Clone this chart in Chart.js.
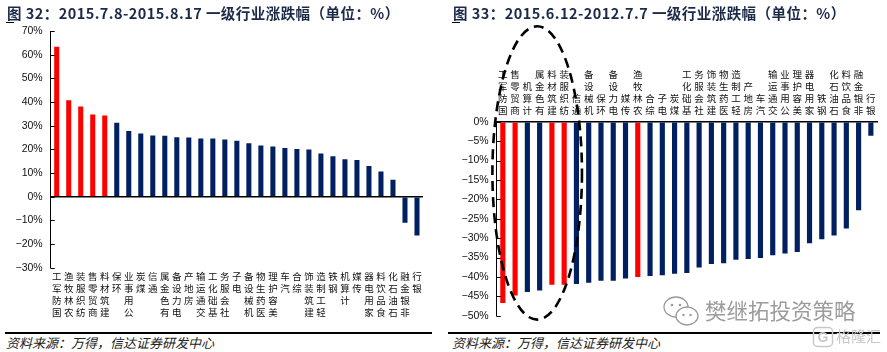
<!DOCTYPE html>
<html><head><meta charset="utf-8">
<script src="https://cdn.jsdelivr.net/npm/chart.js@4/dist/chart.umd.min.js"></script>
<style>
html,body{margin:0;padding:0;background:#fff;width:887px;height:352px;overflow:hidden;position:relative;font-family:"Noto Sans CJK SC",sans-serif;}
.title{position:absolute;top:3.5px;font-weight:bold;font-size:14.5px;letter-spacing:0.45px;color:#1c2a4a;white-space:nowrap;line-height:18px;z-index:2;}
.ul{position:absolute;top:21.5px;height:1.5px;width:8px;background:#000;z-index:2;}
.rule{position:absolute;top:332px;height:1.5px;background:#000;}
.src{position:absolute;top:334.5px;font-size:13px;line-height:16px;font-style:italic;color:#222;white-space:nowrap;}
canvas{position:absolute;top:0;}
.wm{position:absolute;z-index:3;white-space:nowrap;}
</style></head><body>
<div class="title" style="left:7px">图 32：2015.7.8-2015.8.17 一级行业涨跌幅（单位：%）</div>
<div class="ul" style="left:6px"></div>
<div class="title" style="left:453px">图 33：2015.6.12-2012.7.7 一级行业涨跌幅（单位：%）</div>
<div class="ul" style="left:452px"></div>
<canvas id="c1" width="440" height="330" style="left:0;width:440px;height:330px"></canvas>
<canvas id="c2" width="447" height="330" style="left:440px;width:447px;height:330px"></canvas>
<div class="rule" style="left:5px;width:427px"></div>
<div class="rule" style="left:448px;width:432px"></div>
<div class="src" style="left:6px">资料来源：万得，信达证券研发中心</div>
<div class="src" style="left:452px">资料来源：万得，信达证券研发中心</div>
<svg class="wm" style="left:662px;top:295px" width="38" height="34" viewBox="0 0 38 34">
  <ellipse cx="14" cy="12" rx="12" ry="10" fill="#fff" stroke="#9a9a9a" stroke-width="1.3"/>
  <circle cx="10" cy="10" r="1.3" fill="#9a9a9a"/><circle cx="18" cy="10" r="1.3" fill="#9a9a9a"/>
  <ellipse cx="25" cy="21" rx="11" ry="9" fill="#fff" stroke="#9a9a9a" stroke-width="1.3"/>
  <circle cx="21.5" cy="20" r="1.2" fill="#9a9a9a"/><circle cx="28.5" cy="20" r="1.2" fill="#9a9a9a"/>
</svg>
<div class="wm" style="left:705px;top:297px;font-size:21.5px;line-height:26px;color:#9c9c9c;">樊继拓投资策略</div>
<svg class="wm" style="left:812px;top:326px" width="22" height="22" viewBox="0 0 22 22">
  <rect x="1.5" y="1.5" width="19" height="19" rx="4" fill="none" stroke="#c8c8c8" stroke-width="1.5"/>
  <text x="11" y="16" text-anchor="middle" font-size="14" font-family="Liberation Sans" font-weight="bold" fill="#c8c8c8">G</text>
</svg>
<div class="wm" style="left:836px;top:325px;font-size:15px;line-height:22px;color:#c8c8c8;">格隆汇</div>
<script>
// ---- Data ----
const catsL = ['国防军工','农林牧渔','纺织服装','商贸零售','建筑材料','环保','公用事业','煤炭','通信','有色金属','电力设备','房地产','交通运输','基础化工','社会服务','电子','机械设备','医药生物','美容护理','汽车','综合','建筑装饰','轻工制造','钢铁','计算机','传媒','家用电器','食品饮料','石油石化','非银金融','银行'];
const valsL = [63.3,40.7,38.1,34.7,34.3,31.2,27.7,26.7,25.8,25.7,25.1,25.0,24.6,24.6,24.2,23.6,22.6,21.6,21.2,20.6,20.2,19.9,18.2,17.1,15.8,15.5,13.0,10.6,7.2,-11.0,-16.4];
const catsR = ['国防军工','商贸零售','计算机','有色金属','建筑材料','纺织服装','通信','机械设备','环保','电力设备','传媒','农林牧渔','综合','电子','煤炭','基础化工','社会服务','建筑装饰','医药生物','轻工制造','房地产','汽车','交通运输','公用事业','美容护理','家用电器','钢铁','石油石化','食品饮料','非银金融','银行'];
const valsR = [-46.7,-44.8,-43.9,-43.5,-42.0,-42.0,-41.8,-41.5,-41.0,-41.0,-40.4,-40.0,-39.8,-39.6,-39.2,-39.0,-37.6,-36.7,-36.5,-35.6,-35.4,-35.1,-34.4,-34.0,-33.6,-31.3,-30.3,-29.3,-27.5,-22.8,-3.6];
const highlighted = ['国防军工','农林牧渔','纺织服装','商贸零售','建筑材料'];
const ticksL = {min:-30, max:70, step:10};
const ticksR = {min:-50, max:0, step:5};

const RED = '#FF0000', NAVY = '#002060';
const vert = s => Array.from(s).reverse();
const pct = v => (v < 0 ? '\u2212' + Math.abs(v) : v) + '%';

const innerTicks = {
  id:'innerTicks',
  afterDraw(chart){
    const y = chart.scales.y, ctx = chart.ctx;
    ctx.save(); ctx.strokeStyle='#000'; ctx.lineWidth=1;
    y.ticks.forEach(t=>{
      const py = Math.round(y.getPixelForValue(t.value))+0.5;
      ctx.beginPath(); ctx.moveTo(y.right, py); ctx.lineTo(y.right+4, py); ctx.stroke();
    });
    ctx.restore();
  }
};
const ellipse = {
  id:'ellipse',
  afterDraw(chart){
    const x = chart.scales.x, y = chart.scales.y, ctx = chart.ctx;
    const x0 = x.getPixelForValue(0), x5 = x.getPixelForValue(5);
    const cx = x.getPixelForValue(2.8);
    const rx = (x5 - x0) * 0.73;
    const top = y.getPixelForValue(24.6), bot = y.getPixelForValue(-51);
    ctx.save();
    ctx.strokeStyle='#000'; ctx.lineWidth=2.6; ctx.setLineDash([10,6]);
    ctx.beginPath(); ctx.ellipse(cx,(top+bot)/2,rx,(bot-top)/2,0,0,Math.PI*2); ctx.stroke();
    ctx.restore();
  }
};

const catFont = {family:'"Noto Sans CJK SC"', size:9.5, lineHeight:'12px'};
const numFont = {family:'"Liberation Sans", Arial', size:10.5};

function build(id, cats, vals, tk, opt){
  return new Chart(document.getElementById(id), {
    type:'bar',
    data:{labels: cats.map(vert), datasets:[{data: vals,
      backgroundColor: cats.map(c => highlighted.includes(c) ? RED : NAVY),
      barPercentage:1, categoryPercentage:0.42}]},
    options:{responsive:false, animation:false, devicePixelRatio:1,
      layout:{padding:opt.padding},
      plugins:{legend:{display:false}, tooltip:{enabled:false}},
      scales:{
        x:{position:opt.xpos, grid:{display:false, drawTicks:false},
           border:opt.xborder,
           ticks:{autoSkip:false, maxRotation:0, minRotation:0, padding:opt.xpad, color:'#111', font:catFont},
           afterFit(s){ s.height = opt.xh; }},
        y:{min:tk.min, max:tk.max,
           ticks:{stepSize:tk.step, callback:pct, padding:8, color:'#111', font:numFont},
           grid:{drawTicks:false, lineWidth:1.5, color:c => (opt.zeroGrid && c.tick && c.tick.value===0) ? '#000' : 'rgba(0,0,0,0)'},
           border:{display:true, color:'#000', width:1},
           afterFit(s){ s.width = opt.yw; }}
      }
    },
    plugins: opt.plugins
  });
}

build('c1', catsL, valsL, ticksL, {
  padding:{left:0,right:17,top:31,bottom:0}, xpos:'bottom', xborder:{display:false},
  xpad:3, xh:62.3, yw:50.7, zeroGrid:true, plugins:[innerTicks]});
build('c2', catsR, valsR, ticksR, {
  padding:{left:0,right:10,top:0,bottom:7.3}, xpos:'top', xborder:{display:true,color:'#000',width:1.5},
  xpad:5, xh:121.7, yw:56.7, zeroGrid:false, plugins:[innerTicks, ellipse]});
</script>
</body></html>
